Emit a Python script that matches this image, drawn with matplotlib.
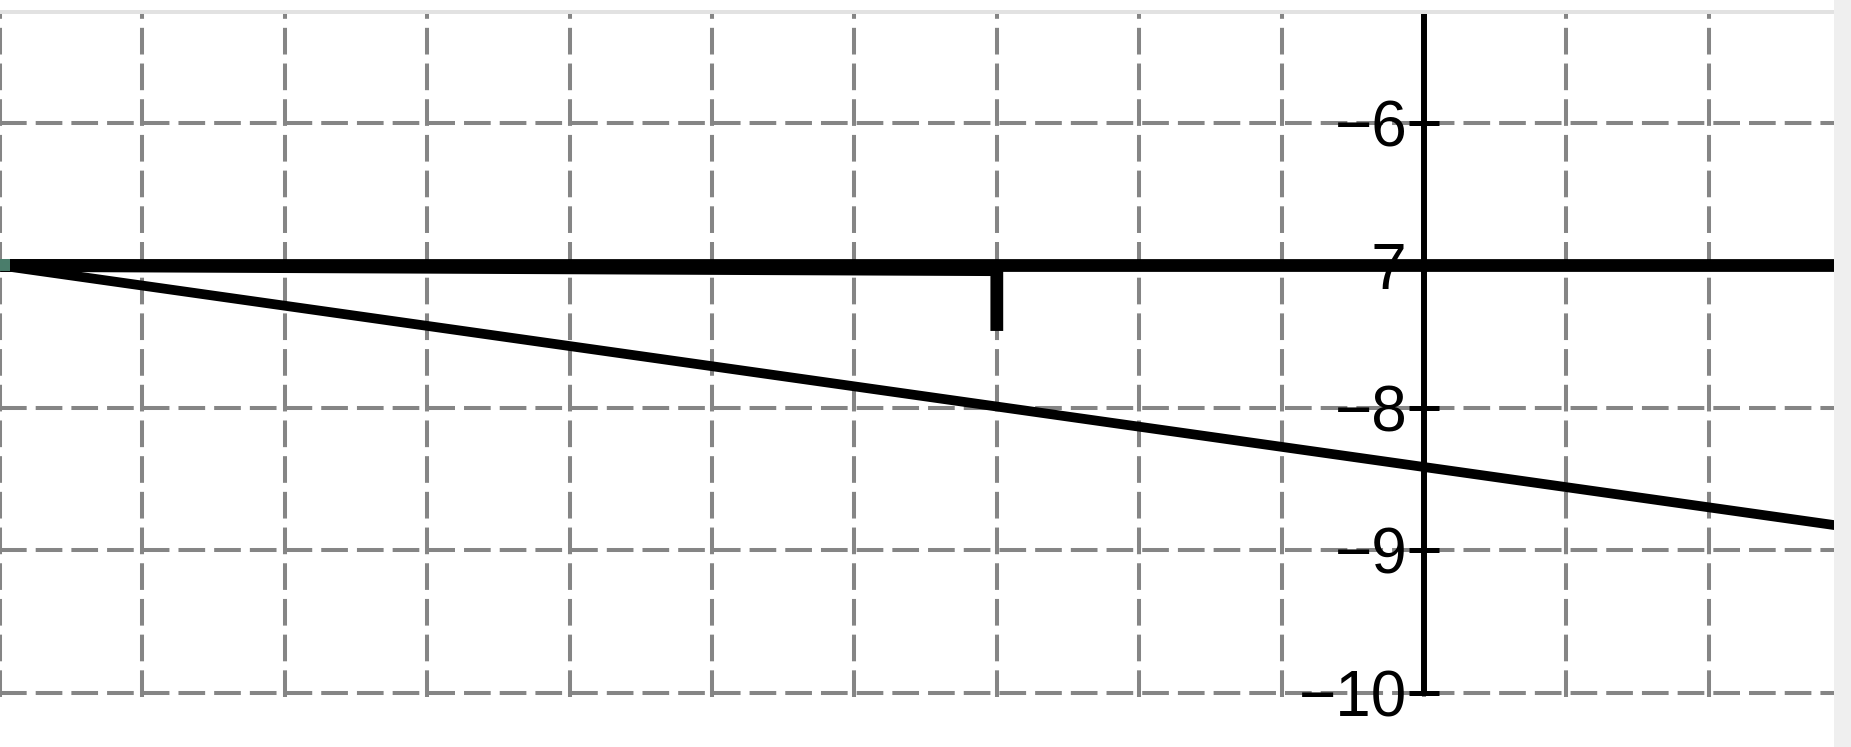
import matplotlib
matplotlib.use("Agg")
import matplotlib.pyplot as plt
from matplotlib.patches import Rectangle

# ---- data ----
x_grid_ticks = [-10, -9, -8, -7, -6, -5, -4, -3, -2, -1, 0, 1, 2]
y_ticks = [-10, -9, -8, -7, -6]
y_tick_labels = ["\u221210", "\u22129", "\u22128", "\u22127", "\u22126"]

horiz_x = [-10, 3]
horiz_y = [-7.0, -7.0]

poly_x = [-10, -3, -3]
poly_y = [-7.0, -7.03, -7.46]

slope_x = [-10, 3]
slope_y = [-7.0, -8.84]

point_x = [-10]
point_y = [-7.0]

plt.rcParams['lines.scale_dashes'] = False

W, H = 1851, 747
fig = plt.figure(figsize=(W / 100, H / 100), dpi=100)
fig.patch.set_facecolor('white')

ax_w = 1834 / W
ax_bottom = (H - 697) / H
ax_top = (H - 14) / H
ax = fig.add_axes([0, ax_bottom, ax_w, ax_top - ax_bottom])
ax.set_xlim(-10, 2.879)
ax.set_ylim(-10.03, -5.235)

# grid
ax.set_xticks(x_grid_ticks)
ax.set_yticks(y_ticks)
ax.set_yticklabels(y_tick_labels)
ax.grid(True, color='#858585', linewidth=2.9, linestyle=(0, (19.2, 6.5)), zorder=0)
ax.set_axisbelow(True)

# spines
for s in ['top', 'right', 'bottom']:
    ax.spines[s].set_visible(False)
ax.spines['left'].set_position(('data', 0))
ax.spines['left'].set_linewidth(4.3)
ax.spines['left'].set_bounds(-10, -5.235)
ax.spines['left'].set_zorder(2)

ax.tick_params(axis='x', length=0, labelbottom=False)
ax.tick_params(axis='y', direction='inout', length=22, width=3.6, pad=1,
               labelsize=46, colors='black')
for lab in ax.get_yticklabels():
    lab.set_family(['Liberation Sans', 'DejaVu Sans'])

# lines
ax.plot(slope_x, slope_y, color='black', linewidth=7.0, solid_capstyle='butt', zorder=5)
ax.plot(horiz_x, horiz_y, color='black', linewidth=9.2, solid_capstyle='butt', zorder=6)
ax.plot(poly_x, poly_y, color='black', linewidth=9.2, solid_capstyle='butt',
        solid_joinstyle='miter', zorder=6)
rect_marker = [(-1, -0.6), (1, -0.6), (1, 0.6), (-1, 0.6), (-1, -0.6)]
ax.plot(point_x, point_y, marker=rect_marker, markersize=14.4, color='#4a7d6b',
        markeredgewidth=0, linestyle='none', zorder=7)

# window decorations (top band and right strip)
fig.patches.append(Rectangle((0, (H - 14) / H), ax_w, 4 / H, transform=fig.transFigure,
                             facecolor='#e2e2e2', edgecolor='none', zorder=10))
fig.patches.append(Rectangle((ax_w, 0), 1 - ax_w, 1, transform=fig.transFigure,
                             facecolor='#efefef', edgecolor='none', zorder=10))

fig.savefig('out.png', dpi=100)
